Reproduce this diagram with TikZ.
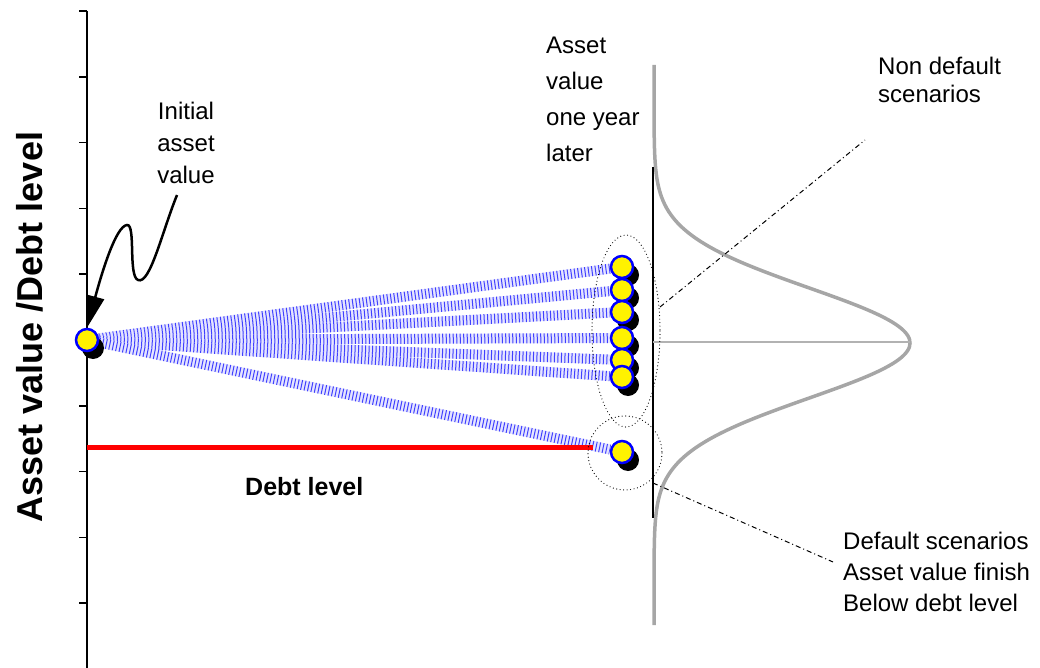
\documentclass[tikz,border=0pt]{standalone}
\usepackage{fontspec}
\setmainfont{Liberation Sans}
\usetikzlibrary{arrows.meta,shadows,backgrounds}

\begin{document}
\begin{tikzpicture}[x=1pt,y=-1pt,
    dot/.style={circle,fill=yellow,draw=blue,line width=2.5pt,minimum size=22pt,inner sep=0pt,
      drop shadow={shadow xshift=6pt,shadow yshift=-8pt,fill=black,opacity=1}},
    fan/.style={line width=10pt,draw=blue!10,postaction={draw=blue!75,line width=10pt,dash pattern=on 1pt off 2.5pt}},
    lbl/.style={inner sep=0pt,align=left,font=\fontsize{24}{34}\selectfont},
    leader/.style={line width=1pt,dash pattern=on 5pt off 3pt on 1pt off 3pt},
    halo/.style={line width=1.2pt,line cap=round,dash pattern=on 0pt off 3.5pt}]
  \useasboundingbox (0,0) rectangle (1040,668);

  % axis and ticks
  \draw[line width=1.5pt] (87,11) -- (87,668);
  \foreach \k in {0,...,9}
    \draw[line width=1.5pt] (79,11+65.8*\k) -- (87,11+65.8*\k);
  \node[inner sep=0pt,rotate=90,font=\bfseries\fontsize{36}{40}\selectfont] (ylab) at (30,327) {Asset value /Debt level};

  % debt level
  \draw[red,line width=5pt] (87,447) -- (593,447);
  \node[inner sep=0pt,anchor=base west,font=\bfseries\fontsize{25}{30}\selectfont] (debt) at (245,495) {Debt level};

  % distribution one year later
  \draw[black!35,line width=3.5pt] plot[domain=65:625,samples=150,smooth] ({654+256*exp(-0.5*((\x-343)/55)^2)},\x);
  \draw[line width=1.5pt] (653,167) -- (653,518);
  \draw[black!30,line width=1.5pt] (653,342) -- (910,342);
  \draw[halo] (626,331) ellipse [x radius=34,y radius=96];
  \draw[halo] (625,453) ellipse [x radius=37,y radius=37];

  % scenarios
  \node[dot] (A0) at (87,340) {};
  \foreach \n/\y in {1/267,2/290,3/312,4/338,5/360,6/377,7/452}
    \node[dot] (A\n) at (622,\y) {};
  \begin{scope}[on background layer]
    \foreach \n in {1,...,7}
      \draw[fan] (A0) -- (A\n);
  \end{scope}

  % labels
  \node[lbl,align=center,anchor=north,font=\fontsize{24}{32}\selectfont] (init) at (186,102) {Initial\\asset\\value};
  \node[lbl,anchor=north west,font=\fontsize{24}{36}\selectfont] (later) at (546,37) {Asset\\value\\one year\\later};
  \node[lbl,anchor=north west,font=\fontsize{24}{28}\selectfont] (nondef) at (878,57) {Non default\\scenarios};
  \node[lbl,anchor=north west,font=\fontsize{24}{31}\selectfont] (def) at (843,532) {Default scenarios\\Asset value finish\\Below debt level};

  \draw[line width=2.5pt,-{Triangle[length=32pt,width=18pt]}] ([shift={(-9,11)}]init.south)
    .. controls (162,232) and (150,285) .. (138,280)
    .. controls (128,276) and (136,224) .. (127,225)
    .. controls (116,226) and (102,272) .. (A0.north);

  \coordinate (nd0) at (660,307);
  \coordinate (nd1) at (865,140);
  \draw[leader] (nd0) -- (nd1);
  \coordinate (df0) at (653,483);
  \coordinate (df1) at (833,562);
  \draw[leader] (df0) -- (df1);
\end{tikzpicture}
\end{document}
